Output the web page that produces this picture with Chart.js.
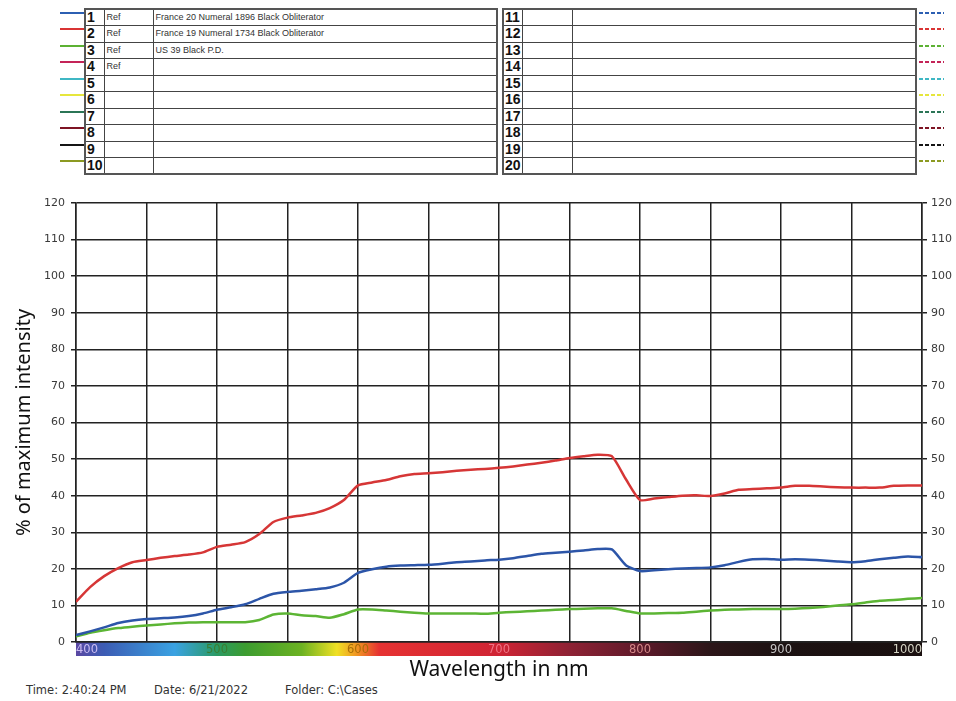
<!DOCTYPE html>
<html>
<head>
<meta charset="utf-8">
<script src="https://cdn.jsdelivr.net/npm/chart.js@4.4.0/dist/chart.umd.min.js"></script>
<style>
  body { margin: 0; width: 956px; height: 701px; background: #fff; position: relative; overflow: hidden; font-family: "DejaVu Sans", sans-serif; }
  table.legend { position: absolute; top: 8px; height: 165px; border-collapse: collapse; border: 2px solid #555; table-layout: fixed; }
  table.legend tr { height: 16.5px; }
  table.legend td { border: 1.5px solid #444; padding: 0 0 0 2px; overflow: hidden; white-space: nowrap; color: #333; font-family: "Liberation Sans", sans-serif; font-size: 9px; line-height: 13px; }
  table.legend td.num { font-weight: bold; font-size: 14px; color: #111; padding-left: 1px; }
  .stub { position: absolute; height: 2px; }
  #wrap { position: absolute; left: 0; top: 186px; width: 956px; height: 497px; }
  .foot { position: absolute; top: 683px; font-size: 11.5px; color: #333; }
</style>
</head>
<body>
<table class="legend" id="legLeft" style="left:84px;width:414px"></table>
<table class="legend" id="legRight" style="left:502px;width:415px"></table>
<div id="wrap"><canvas id="spectrum" width="956" height="497"></canvas></div>
<div class="foot" style="left:26px">Time: 2:40:24 PM</div>
<div class="foot" style="left:154px">Date: 6/21/2022</div>
<div class="foot" style="left:285px">Folder: C:\Cases</div>
<script>
const rowColors = ["#2c5fb2", "#d93434", "#5cb133", "#c42458", "#3fb7c4", "#e6e63c", "#2b7556", "#7e1424", "#151515", "#8c9a22"];
const rowRefs = ["Ref", "Ref", "Ref", "Ref", "", "", "", "", "", ""];
const rowNames = ["France 20 Numeral 1896 Black Obliterator", "France 19 Numeral 1734 Black Obliterator", "US 39 Black P.D.", "", "", "", "", "", "", ""];

const wavelengths = [400, 410, 420, 430, 440, 450, 460, 470, 480, 490, 500, 510, 520, 530, 540, 550, 560, 570, 580, 590, 600,
  610, 620, 630, 640, 650, 660, 670, 680, 690, 700, 710, 720, 730, 740, 750, 760, 770, 780, 790, 800,
  810, 820, 830, 840, 850, 860, 870, 880, 890, 900, 910, 920, 930, 940, 950, 960, 970, 980, 990, 1000];
const france20 = [1.9, 2.9, 4.0, 5.2, 5.9, 6.3, 6.5, 6.7, 7.1, 7.8, 8.8, 9.5, 10.3, 11.8, 13.2, 13.7, 14.0, 14.4, 14.9, 16.2, 18.9,
  19.9, 20.6, 20.9, 21.0, 21.1, 21.4, 21.8, 22.0, 22.3, 22.5, 22.9, 23.5, 24.1, 24.4, 24.7, 25.0, 25.4, 25.3, 21.0, 19.4,
  19.6, 19.9, 20.1, 20.2, 20.4, 21.0, 21.9, 22.6, 22.7, 22.5, 22.6, 22.5, 22.3, 22.0, 21.8, 22.1, 22.6, 23.0, 23.4, 23.2];
const france19 = [11.0, 15.0, 18.0, 20.2, 21.8, 22.4, 23.0, 23.5, 23.9, 24.5, 26.0, 26.6, 27.3, 29.5, 32.8, 34.0, 34.6, 35.3, 36.6, 38.8, 42.8,
  43.6, 44.3, 45.3, 45.9, 46.1, 46.4, 46.8, 47.1, 47.3, 47.6, 48.0, 48.5, 49.0, 49.6, 50.3, 50.8, 51.2, 50.8, 44.5, 38.8,
  39.2, 39.6, 40.0, 40.1, 39.9, 40.6, 41.6, 41.8, 42.0, 42.2, 42.7, 42.7, 42.5, 42.3, 42.2, 42.2, 42.2, 42.7, 42.8, 42.8];
const us39 = [1.5, 2.5, 3.2, 3.8, 4.2, 4.5, 4.8, 5.1, 5.3, 5.4, 5.4, 5.4, 5.4, 6.0, 7.5, 7.8, 7.3, 7.1, 6.6, 7.6, 8.9,
  8.9, 8.6, 8.3, 8.0, 7.8, 7.8, 7.8, 7.8, 7.7, 8.0, 8.2, 8.4, 8.6, 8.8, 9.0, 9.1, 9.2, 9.2, 8.5, 7.8,
  7.8, 7.9, 8.0, 8.3, 8.6, 8.8, 8.9, 9.0, 9.0, 9.0, 9.1, 9.3, 9.6, 10.0, 10.3, 10.8, 11.3, 11.5, 11.8, 12.0];

const bandStops = [400, 420, 470, 500, 520, 560, 585, 600, 615, 700, 750, 800, 850, 900, 1000];
const bandColors = ["#5a48a2", "#3c5cb4", "#3aa2e2", "#2a9a64", "#3c9c30", "#6cb222", "#f0e024", "#f09022", "#e63232", "#cf2434", "#8e2234", "#5e1a2a", "#2c1619", "#1c1212", "#1a1010"];
const tickColors = { 400: "#cbbcf2", 500: "#3c7c32", 600: "#a86e08", 700: "#f07484", 800: "#d48888", 900: "#c4c4c4", 1000: "#d4d4c4" };

// legend tables
const fillTable = (id, start) => {
  const table = document.getElementById(id);
  const cols = document.createElement("colgroup");
  [19, start === 0 ? 49 : 50, null].forEach((w) => {
    const c = document.createElement("col");
    if (w) c.style.width = w + "px";
    cols.appendChild(c);
  });
  table.appendChild(cols);
  for (let i = 0; i < 10; i++) {
    const tr = document.createElement("tr");
    const tdNum = document.createElement("td");
    tdNum.className = "num";
    tdNum.innerText = start + i + 1;
    const tdRef = document.createElement("td");
    tdRef.innerText = start === 0 ? rowRefs[i] : "";
    const tdName = document.createElement("td");
    tdName.innerText = start === 0 ? rowNames[i] : "";
    tr.appendChild(tdNum);
    tr.appendChild(tdRef);
    tr.appendChild(tdName);
    table.appendChild(tr);
  }
};
fillTable("legLeft", 0);
fillTable("legRight", 10);

rowColors.forEach((color, i) => {
  const y = 12.7 + i * 16.5;
  const left = document.createElement("div");
  left.className = "stub";
  left.style.cssText = `left:60px;top:${y - 1}px;width:24px;background:${color}`;
  document.body.appendChild(left);
  const right = document.createElement("div");
  right.className = "stub";
  right.style.cssText = `left:919px;top:${y - 1}px;width:25px;background:repeating-linear-gradient(90deg, ${color} 0 4px, transparent 4px 6px)`;
  document.body.appendChild(right);
});

// coloured wavelength band under the plot
const spectrumBand = {
  id: "spectrumBand",
  beforeDraw(chart) {
    const { ctx, chartArea } = chart;
    const x = chart.scales.x;
    const grad = ctx.createLinearGradient(chartArea.left, 0, chartArea.right, 0);
    bandStops.forEach((nm, i) => grad.addColorStop((nm - 400) / 600, bandColors[i]));
    ctx.save();
    ctx.fillStyle = grad;
    ctx.fillRect(x.left, chartArea.bottom, x.right - x.left, 14);
    ctx.restore();
  },
};

const toPoints = (values) => values.map((v, i) => ({ x: wavelengths[i], y: v }));
const lineSet = (data, color) => ({
  data: toPoints(data),
  borderColor: color,
  borderWidth: 2.5,
  pointRadius: 0,
  tension: 0.2,
});

const yAxis = (position, grid, pad) => ({
  position,
  min: 0,
  max: 120,
  ticks: { stepSize: 10, color: "#3a3a3a", font: { family: "DejaVu Sans", size: 11 }, padding: pad },
  grid,
  border: { color: "#222", width: 1.5 },
});

new Chart(document.getElementById("spectrum"), {
  type: "line",
  data: {
    datasets: [lineSet(france20, "#2c55a8"), lineSet(france19, "#d63636"), lineSet(us39, "#5cb534")],
  },
  options: {
    responsive: false,
    animation: false,
    layout: { padding: { top: 17, left: 12, right: 0, bottom: 0 } },
    plugins: { legend: { display: false }, tooltip: { enabled: false } },
    scales: {
      x: {
        type: "linear",
        min: 400,
        max: 1000,
        ticks: {
          stepSize: 50,
          autoSkip: false,
          maxRotation: 0,
          align: "inner",
          padding: 1,
          font: { family: "DejaVu Sans", size: 11.5 },
          color: (c) => tickColors[c.tick.value] || "#000",
          callback: (v) => (v % 100 === 0 ? v : ""),
        },
        grid: { color: "#222", lineWidth: 1.5, drawTicks: false },
        border: { color: "#222", width: 1.5 },
        title: { display: true, text: "Wavelength in nm", color: "#111", font: { family: "Noto Sans", size: 21 }, padding: { top: 0, bottom: 0 } },
      },
      y: {
        ...yAxis("left", { color: "#222", lineWidth: 1.5, tickLength: 5 }, 6),
        title: { display: true, text: "% of maximum intensity", color: "#111", font: { family: "Noto Sans", size: 20 }, padding: { top: 0, bottom: 2 } },
      },
      y2: yAxis("right", { drawOnChartArea: false, color: "#222", lineWidth: 1.5, tickLength: 5 }, 4),
    },
  },
  plugins: [spectrumBand],
});
</script>
</body>
</html>
